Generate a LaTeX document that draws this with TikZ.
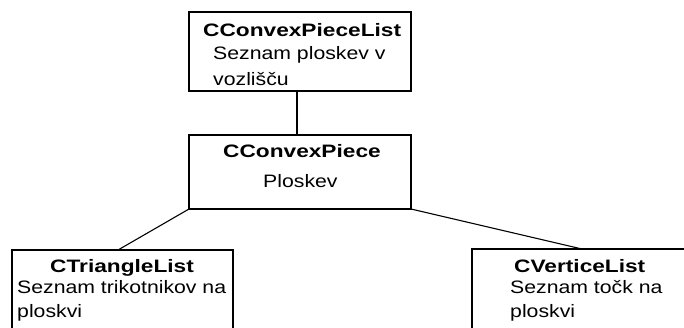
\documentclass[tikz,border=0pt]{standalone}
\usepackage{fontspec}
\newfontfamily\labelfont[FakeStretch=1.18]{Liberation Sans}
\newfontfamily\titlefont[FakeStretch=1.26]{Liberation Sans}
\begin{document}
\begin{tikzpicture}[x=1bp, y=-1bp,
  box/.style={draw, line width=1.1bp, rectangle, inner sep=0pt, outer sep=0pt},
  link/.style={draw, line width=1.1bp},
  title/.style={anchor=base west, inner sep=0pt, font=\titlefont\bfseries\fontsize{18bp}{24bp}\selectfont},
  body/.style={anchor=base west, inner sep=0pt, font=\labelfont\fontsize{18bp}{24bp}\selectfont}]
\useasboundingbox (0,0) rectangle (684,327);
\clip (0,0) rectangle (684,327);

% class boxes
\node[box, minimum width=222bp, minimum height=79bp] (top) at (300,51.5) {};
\node[box, minimum width=222bp, minimum height=74bp] (mid) at (300,172) {};
\node[box, minimum width=221bp, minimum height=100bp] (left) at (122.5,300) {};
\node[box, minimum width=220bp, minimum height=100bp] (right) at (582,299) {};

% connectors
\draw[link] ([xshift=-3bp]top.south) -- ([xshift=-3bp]mid.north);
\draw[link] (mid.south west) -- ([xshift=-4.5bp]left.north);
\draw[link] (mid.south east) -- (right.north);

% labels
\node[title] (topT) at (203,36) {CConvexPieceList};
\node[body] (topA) at (213,59) {Seznam ploskev v};
\node[body] (topB) at (213,85) {vozlišču};

\node[title] (midT) at (223,157) {CConvexPiece};
\node[body] (midA) at (263,187) {Ploskev};

\node[title] (leftT) at (50,272) {CTriangleList};
\node[body] (leftA) at (17,293) {Seznam trikotnikov na};
\node[body] (leftB) at (17,317) {ploskvi};

\node[title] (rightT) at (514,272) {CVerticeList};
\node[body] (rightA) at (510,293) {Seznam točk na};
\node[body] (rightB) at (510,317) {ploskvi};
\end{tikzpicture}
\end{document}
